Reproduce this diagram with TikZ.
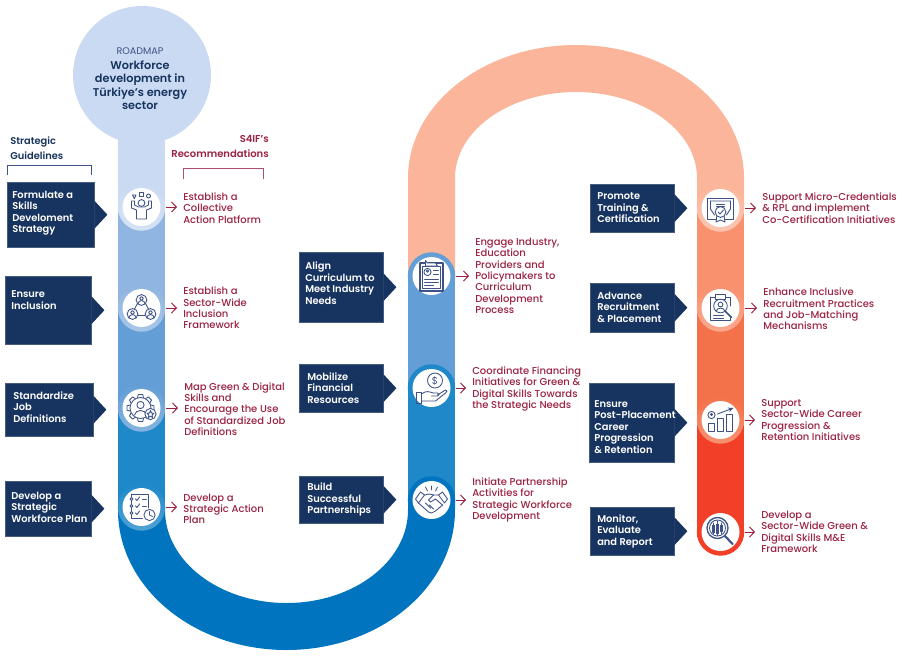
\documentclass[tikz,border=0pt]{standalone}
\usepackage{fontspec}
\setmainfont{Poppins}
\newfontfamily\medfont{Poppins Medium}
\newfontfamily\semifont{Poppins SemiBold}
\usetikzlibrary{arrows.meta,calc}

\definecolor{navy}{HTML}{17335F}
\definecolor{wine}{HTML}{9B2242}
\definecolor{icline}{HTML}{3E5287}
\definecolor{bluea}{HTML}{C9DAF2}
\definecolor{blueb}{HTML}{8FB5E0}
\definecolor{bluec}{HTML}{639ED6}
\definecolor{blued}{HTML}{1E88C9}
\definecolor{bluee}{HTML}{0074BF}
\definecolor{orana}{HTML}{FBB59A}
\definecolor{oranb}{HTML}{F9906E}
\definecolor{oranc}{HTML}{F4724A}
\definecolor{orand}{HTML}{F23F28}

\tikzset{
  halo/.style={circle,inner sep=0pt,minimum size=35.6pt,fill=#1},
  fadehalo/.style={circle,inner sep=0pt,minimum size=35.6pt,top color=#1,bottom color=#1!78!white},
  whitedot/.style={circle,inner sep=0pt,minimum size=28.5pt,fill=white},
  gbox/.style={rectangle,inner sep=0pt,fill=navy,draw=navy!80!white,line width=0.3pt,anchor=north west},
  gtext/.style={inner sep=0pt,anchor=west,align=left,text=white,font=\semifont\fontsize{7.4}{8.6}\selectfont},
  rectext/.style={inner sep=0pt,anchor=west,align=left,text=wine,font=\medfont\fontsize{7.5}{8.5}\selectfont},
  recarrow/.style={-{Straight Barb[length=3.6pt,width=7.6pt]},draw=wine,line width=0.75pt,shorten >=4.5pt},
  bracket/.style={line width=0.7pt},
  icon/.style={draw=icline,line width=0.65pt,line join=round,line cap=round},
}

% box with a point on its right side
\newcommand{\guidebox}[8]{%
  \node[gbox,minimum width={#4*0.75pt},minimum height={#5*0.75pt}] (#1) at (#2,#3) {};
  \fill[navy] ($(#1.east)+(0,-14)$) -- ($(#1.east)+(13,0)$) -- ($(#1.east)+(0,14)$) -- cycle;
  \node[gtext] (#1t) at (#6,#7) {#8};
}

\begin{document}
\begin{tikzpicture}[x=0.75pt,y=-0.75pt]
\useasboundingbox (0,0) rectangle (901,658);

% tube, left
\fill[bluea] (118,100) rectangle (165,207);
\fill[blueb] (118,207) rectangle (165,308);
\fill[bluec] (118,308) rectangle (165,408);
\fill[blued] (118,408) rectangle (165,507);
% tube, bottom arc
\fill[bluee] (118,507) -- (118,510) arc[start angle=180,end angle=0,x radius=168.5,y radius=140]
  -- (455,500) -- (408,500) -- (408,510) arc[start angle=0,end angle=180,x radius=121.5,y radius=93] -- (165,507) -- cycle;
% tube, middle
\fill[blued] (408,388) rectangle (455,500);
\fill[bluec] (408,277) rectangle (455,388);
% tube, top arc
\fill[orana] (408,277) -- (408,178) arc[start angle=180,end angle=360,x radius=168,y radius=133]
  -- (744,208) -- (697,208) -- (697,178) arc[start angle=360,end angle=180,x radius=121,y radius=86] -- (455,277) -- cycle;
% tube, right
\fill[oranb] (697,208) rectangle (744,308);
\fill[oranc] (697,308) rectangle (744,420);
\fill[orand] (697,420) rectangle (744,532);

% head
\node[circle,inner sep=0pt,minimum size=103.5pt,fill=bluea] (head) at (142,75) {};
\node[inner sep=0pt,text=icline,font=\fontsize{7.2}{8}\selectfont] (roadmap) at (140,51) {ROADMAP};
\node[inner sep=0pt,align=center,text=navy,font=\semifont\fontsize{8.45}{10.1}\selectfont] (title) at (140,85)
  {Workforce\\development in\\Türkiye’s energy\\sector};

% circles on the tube
\node[fadehalo=bluea] (hl1) at (141.5,207) {};
\node[fadehalo=blueb] (hl2) at (141.5,308) {};
\node[fadehalo=bluec] (hl3) at (141.5,408) {};
\node[fadehalo=blued] (hl4) at (141.5,507) {};
\node[halo=bluec] (hm1) at (431.5,276) {};
\node[halo=blued] (hm2) at (431.5,388) {};
\node[halo=bluee] (hm3) at (431.5,500) {};
\node[fadehalo=orana] (hr1) at (720.5,208) {};
\node[fadehalo=oranb] (hr2) at (720.5,308) {};
\node[fadehalo=oranc] (hr3) at (720.5,420) {};
\node[halo=orand] (hr4) at (720.5,532) {};

\node[whitedot] (ic1) at (hl1) {};
\node[whitedot] (ic2) at (hl2) {};
\node[whitedot] (ic3) at (hl3) {};
\node[whitedot] (ic4) at (hl4) {};
\node[whitedot] (im1) at (hm1) {};
\node[whitedot] (im2) at (hm2) {};
\node[whitedot] (im3) at (hm3) {};
\node[whitedot] (ir1) at (hr1) {};
\node[whitedot] (ir2) at (hr2) {};
\node[whitedot] (ir3) at (hr3) {};
\node[whitedot] (ir4) at (hr4) {};

% headings
\node[inner sep=0pt,anchor=west,align=left,text=navy,font=\semifont\fontsize{7.4}{11.2}\selectfont] (guidehd) at (10,148) {Strategic\\Guidelines};
\node[inner sep=0pt,anchor=east,align=right,text=wine,font=\semifont\fontsize{7.5}{11.2}\selectfont] (rechd) at (269,146) {S4IF’s\\Recommendations};
\draw[bracket,draw=icline] (7,175) -- (7,165.5) -- (91,165.5) -- (91,175);
\draw[bracket,draw=wine!80!white] (183,179) -- (183,168.5) -- (263,168.5) -- (263,179);

% boxes
\guidebox{g1}{7}{182}{87}{65}{12}{213}{Formulate a\\Skills\\Develoment\\Strategy}
\guidebox{g2}{5}{276}{86}{68}{11}{300}{Ensure\\Inclusion}
\guidebox{g3}{5}{383}{88}{53}{13}{407}{Standardize\\Job\\Definitions}
\guidebox{g4}{5}{481}{86}{55}{11}{507}{Develop a\\Strategic\\Workforce Plan}
\guidebox{m1}{299}{252}{84}{70}{305}{283}{Align\\Curriculum to\\Meet Industry\\Needs}
\guidebox{m2}{299}{364}{84}{48}{307}{388}{Mobilize\\Financial\\Resources}
\guidebox{m3}{299}{476}{84}{47}{307}{499.5}{Build\\Successful\\Partnerships}
\guidebox{r1}{590}{184}{84}{48}{597}{208}{Promote\\Training \&\\Certification}
\guidebox{r2}{590}{283}{84}{49}{597}{307}{Advance\\Recruitment\\\& Placement}
\guidebox{r3}{589}{383}{85}{79}{594}{427}{Ensure\\Post-Placement\\Career\\Progression\\\& Retention}
\guidebox{r4}{590}{507}{84}{48}{597}{531}{Monitor,\\Evaluate\\and Report}

% recommendations
\node[rectext] (rc1) at (183,208) {Establish a\\Collective\\Action Platform};
\node[rectext] (rc2) at (183,308) {Establish a\\Sector-Wide\\Inclusion\\Framework};
\node[rectext] (rc3) at (184,409) {Map Green \& Digital\\Skills and\\Encourage the Use\\of Standardized Job\\Definitions};
\node[rectext] (rc4) at (183,509) {Develop a\\Strategic Action\\Plan};
\node[rectext] (rm1) at (475,276) {Engage Industry,\\Education\\Providers and\\Policymakers to\\Curriculum\\Development\\Process};
\node[rectext] (rm2) at (472,389) {Coordinate Financing\\Initiatives for Green \&\\Digital Skills Towards\\the Strategic Needs};
\node[rectext] (rm3) at (472,500) {Initiate Partnership\\Activities for\\Strategic Workforce\\Development};
\node[rectext] (rr1) at (762,208) {Support Micro-Credentials\\\& RPL and implement\\Co-Certification Initiatives};
\node[rectext] (rr2) at (763,309) {Enhance Inclusive\\Recruitment Practices\\and Job-Matching\\Mechanisms};
\node[rectext] (rr3) at (761,420) {Support\\Sector-Wide Career\\Progression \&\\Retention Initiatives};
\node[rectext] (rr4) at (761,532) {Develop a\\Sector-Wide Green \&\\Digital Skills M\&E\\Framework};

\draw[recarrow] (hl1.east) -- (hl1.east -| rc1.west);
\draw[recarrow] (hl2.east) -- (hl2.east -| rc2.west);
\draw[recarrow] (hl3.east) -- (hl3.east -| rc3.west);
\draw[recarrow] (hl4.east) -- (hl4.east -| rc4.west);
\draw[recarrow] (hm1.east) -- (hm1.east -| rm1.west);
\draw[recarrow] (hm2.east) -- (hm2.east -| rm2.west);
\draw[recarrow] (hm3.east) -- (hm3.east -| rm3.west);
\draw[recarrow] (hr1.east) -- (hr1.east -| rr1.west);
\draw[recarrow] (hr2.east) -- (hr2.east -| rr2.west);
\draw[recarrow] (hr3.east) -- (hr3.east -| rr3.west);
\draw[recarrow] (hr4.east) -- (hr4.east -| rr4.west);

% icons
\begin{scope}[shift={(ic1)},icon]
  \draw (-9,-12) -- (-5.5,-12) -- (-7.2,-8.5) -- cycle;
  \draw (-2.5,-15) rectangle (2,-10.5);
  \draw (7,-11) circle (2);
  \draw (0,-4) circle (3.4);
  \draw (-10,-6) -- (-10,1) -- (-5,3) -- (-5,12) -- (5,12) -- (5,3) -- (10,1) -- (10,-6) -- (7,-6) -- (7,-2) -- (3,0) -- (-3,0) -- (-7,-2) -- (-7,-6) -- cycle;
\end{scope}
\begin{scope}[shift={(ic2)},icon]
  \draw (0,-8) circle (5.4);
  \draw (-9,6) circle (5.4);
  \draw (9,6) circle (5.4);
  \draw (0,-9.5) circle (1.9);
  \draw (-9,4.5) circle (1.9);
  \draw (9,4.5) circle (1.9);
  \draw (-3.5,-4) arc[start angle=180,end angle=360,radius=3.5];
  \draw (-12.5,10) arc[start angle=180,end angle=360,radius=3.5];
  \draw (5.5,10) arc[start angle=180,end angle=360,radius=3.5];
  \draw (-4,-4.5) -- (-7,1);
  \draw (4,-4.5) -- (7,1);
  \draw (-3.6,7) -- (3.6,7);
\end{scope}
\begin{scope}[shift={(ic3)},icon]
  \draw (-1,0) circle (10.5);
  \foreach \a in {0,45,...,315}
    \draw[rotate around={\a:(-1,0)}] (-4,-10.5) -- (-3.2,-13.5) -- (1.2,-13.5) -- (2,-10.5);
  \draw (-1,-3) circle (3.6);
  \draw (-7,7) .. controls (-6,1) and (4,1) .. (5,7);
  \draw[fill=white] (9,6) circle (5.6);
  \draw (9,2.5) -- (10,5) -- (12.5,5.3) -- (10.6,7) -- (11.2,9.5) -- (9,8.2) -- (6.8,9.5) -- (7.4,7) -- (5.5,5.3) -- (8,5) -- cycle;
\end{scope}
\begin{scope}[shift={(ic4)},icon]
  \draw (-10,-13) -- (7,-13) -- (7,1);
  \draw (1,11) -- (-10,11) -- (-10,-13);
  \draw[fill=white] (-10,-8) circle (1.5);
  \draw[fill=white] (-10,-1) circle (1.5);
  \draw[fill=white] (-10,6) circle (1.5);
  \draw (-6,-8) -- (-4.5,-6.5) -- (-2,-10);
  \draw (-6,-1) -- (-4.5,0.5) -- (-2,-3);
  \draw (-6,6) -- (-4.5,7.5) -- (-2,4);
  \draw (1,-8) -- (5,-8);
  \draw (1,-1) -- (5,-1);
  \draw[fill=white] (8,8) circle (5.6);
  \draw (8,4.5) -- (8,8) -- (11,9.5);
\end{scope}
\begin{scope}[shift={(im1)},icon]
  \draw[line width=0.9pt] (-11.5,-13) rectangle (11.5,15);
  \draw (-9,-10) rectangle (9,12);
  \draw[fill=white] (-6,-15.5) -- (-4,-13) -- (4,-13) -- (6,-10) -- (-6,-10) -- cycle;
  \draw (-4,-4) circle (3.6);
  \draw (-4,-5) circle (1.2);
  \draw (2,-6) -- (7,-6);
  \draw (2,-2) -- (7,-2);
  \draw (-7,3) -- (7,3);
  \draw (-7,6) -- (7,6);
  \draw (-7,9) -- (2,9);
\end{scope}
\begin{scope}[shift={(im2)},icon]
  \draw (3.5,-7.5) circle (7.5);
  \node[inner sep=0pt,text=icline,font=\fontsize{7.5}{8}\selectfont] (dollar) at (3.5,-7.5) {\$};
  \draw (-15,4) rectangle (-10,15);
  \draw (-10,6) .. controls (-5,2) and (-2,4) .. (2,5) -- (6,5) .. controls (8,5) and (8,8) .. (6,8) -- (0,8);
  \draw (6,7) -- (14,2) .. controls (16,2) and (16,4) .. (14,5) -- (4,13) -- (-10,13);
\end{scope}
\begin{scope}[shift={(im3)},icon]
  \draw (-16,-1) -- (-11,-8) -- (-7,-5) -- (-13,3) -- cycle;
  \draw (16,-1) -- (11,-8) -- (7,-5) -- (13,3) -- cycle;
  \draw (-7,-5) -- (-2,-6) -- (2,-5) -- (7,-5);
  \draw (2,-5) -- (-3,0) -- (-1,2) -- (4,-1) -- (11,5);
  \draw (-13,3) -- (-3,12) -- (0,13) -- (4,11) -- (11,5);
  \draw (-6,3) -- (-1,8);
  \draw (-2,5) -- (2,9);
  \draw (0,-14) -- (0,-10);
  \draw (-6,-13) -- (-4,-9);
  \draw (6,-13) -- (4,-9);
\end{scope}
\begin{scope}[shift={(ir1)},icon]
  \draw (-13,-10) rectangle (13,11);
  \draw (-10,-7) -- (10,-7) -- (10,1) -- (6,7);
  \draw (-10,-7) -- (-10,1) -- (-6,7);
  \draw (-4,-4) -- (4,-4);
  \draw (-4,-1.5) -- (4,-1.5);
  \draw[fill=white] (-3.5,7) -- (-4.5,14) -- (0,12) -- (4.5,14) -- (3.5,7) -- cycle;
  \draw[fill=white] (0,4) circle (5.4);
  \draw (-2.5,4) -- (-0.5,6) -- (3,2);
\end{scope}
\begin{scope}[shift={(ir2)},icon]
  \draw (-10,-11) -- (10,-11) -- (10,-2);
  \draw (10,8) -- (10,12.5) -- (-10,12.5) -- (-10,-11);
  \draw[fill=white] (-5,-14) rectangle (5,-9);
  \draw (0,-2) circle (6.8);
  \draw (0,-3.5) circle (2.4);
  \draw (-4.3,3) .. controls (-3.5,-0.8) and (3.5,-0.8) .. (4.3,3);
  \draw[line width=1.1pt] (5,3.5) -- (11,9.5);
  \draw (-7,7) -- (3,7);
  \draw (-7,10) -- (3,10);
\end{scope}
\begin{scope}[shift={(ir3)},icon]
  \draw (-12,3) rectangle (-6,11);
  \draw (-3,-2) rectangle (3,11);
  \draw (6,-6) rectangle (12,11);
  \draw (-9,-5) circle (3.6);
  \draw (-9,-5.5) circle (1.1);
  \draw[-{Stealth[length=4pt,width=3.5pt]}] (-3,-6) -- (13,-12);
\end{scope}
\begin{scope}[shift={(ir4)},icon]
  \draw[line width=1pt] (-3,-4) circle (10.5);
  \draw (-3,-4) circle (8);
  \draw (-7,-9) -- (-7,2);
  \draw[fill=icline] (-8,-7) rectangle (-6,0);
  \draw (-3,-11) -- (-3,4);
  \draw[fill=icline] (-4,-8) rectangle (-2,1);
  \draw (1,-9) -- (1,2);
  \draw[fill=icline] (0,-7) rectangle (2,-1);
  \draw[line width=1.6pt] (4.5,4) -- (12,12);
\end{scope}
\end{tikzpicture}
\end{document}
